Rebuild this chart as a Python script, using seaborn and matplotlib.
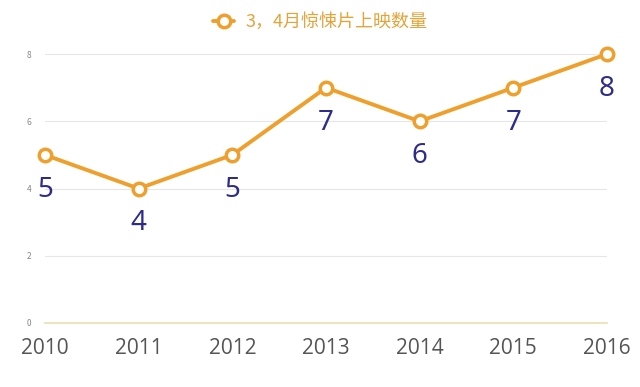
import pandas as pd
import matplotlib.pyplot as plt
import seaborn as sns

# data
years = [2010, 2011, 2012, 2013, 2014, 2015, 2016]
counts = [5, 4, 5, 7, 6, 7, 8]
series_name = '3，4月惊悚片上映数量'
yticks = [0, 2, 4, 6, 8]

df = pd.DataFrame({'year': years, 'count': counts})

sns.set_theme(style="white")
plt.rcParams['font.family'] = ['Noto Sans CJK SC', 'DejaVu Sans']

orange = '#EFA02C'
navy = '#2E2C8A'

fig = plt.figure(figsize=(6.4, 3.87), dpi=100)
ax = fig.add_axes([45 / 640, 1 - 323 / 387, (607 - 45) / 640, (323 - 44) / 387])

sns.lineplot(data=df, x='year', y='count', ax=ax, color=orange, linewidth=2.8,
             marker='o', markersize=9, markerfacecolor='white',
             markeredgecolor=orange, markeredgewidth=2.5, label=series_name,
             clip_on=False, zorder=5)

# value labels under each point
for x, y in zip(years, counts):
    ax.annotate(str(y), (x, y), xytext=(0, -15), textcoords='offset points',
                ha='center', va='top', fontsize=20, color=navy,
                family=['Noto Sans', 'DejaVu Sans'])

ax.set_xlim(2010, 2016)
ax.set_ylim(0, 8.3)
ax.set_yticks(yticks)
ax.set_xticks(years)
ax.set_xticklabels([str(y) for y in years], family=['Open Sans', 'DejaVu Sans'])
ax.yaxis.grid(True, color='#E6E6E6', linewidth=0.8)
ax.tick_params(axis='y', labelsize=6, colors='#888888', length=0, pad=10)
ax.tick_params(axis='x', labelsize=15, colors='#555555', length=0, pad=11)
for s in ['top', 'right', 'left']:
    ax.spines[s].set_visible(False)
ax.spines['bottom'].set_color('#E8E0B0')
ax.spines['bottom'].set_linewidth(1.2)
ax.set_xlabel('')
ax.set_ylabel('')

leg = ax.legend(loc='center', bbox_to_anchor=(0.5, 1 - 22 / 387), bbox_transform=fig.transFigure,
                frameon=False, fontsize=13, handlelength=1.2, handletextpad=0.6)
for t in leg.get_texts():
    t.set_color('#E3A43A')

fig.savefig('out.png', dpi=100)
